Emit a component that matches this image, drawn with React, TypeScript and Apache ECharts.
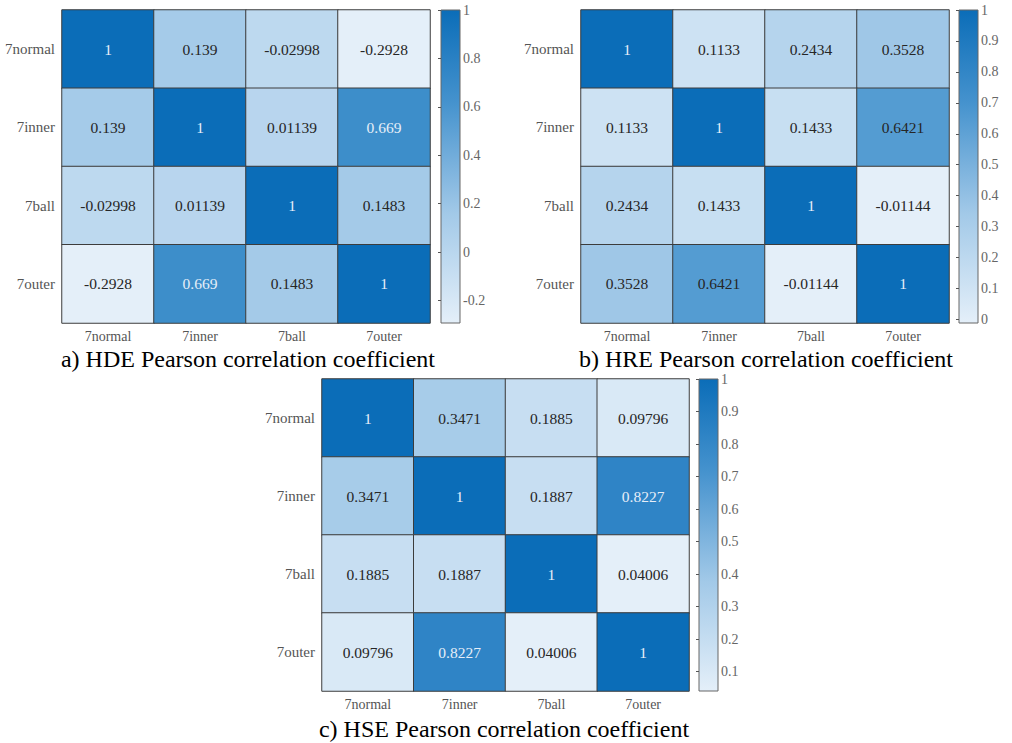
import React, { useEffect, useRef } from "react";
import * as echarts from "echarts";

// Category labels shared by rows and columns
const CATEGORIES = ["7normal", "7inner", "7ball", "7outer"];

// Pearson correlation matrices (row-major, rows top to bottom)
const HDE_VALUES = [
  [1, 0.139, -0.02998, -0.2928],
  [0.139, 1, 0.01139, 0.669],
  [-0.02998, 0.01139, 1, 0.1483],
  [-0.2928, 0.669, 0.1483, 1],
];
const HRE_VALUES = [
  [1, 0.1133, 0.2434, 0.3528],
  [0.1133, 1, 0.1433, 0.6421],
  [0.2434, 0.1433, 1, -0.01144],
  [0.3528, 0.6421, -0.01144, 1],
];
const HSE_VALUES = [
  [1, 0.3471, 0.1885, 0.09796],
  [0.3471, 1, 0.1887, 0.8227],
  [0.1885, 0.1887, 1, 0.04006],
  [0.09796, 0.8227, 0.04006, 1],
];

// Colour-bar tick labels
const HDE_TICKS = [-0.2, 0, 0.2, 0.4, 0.6, 0.8, 1];
const HRE_TICKS = [0, 0.1, 0.2, 0.3, 0.4, 0.5, 0.6, 0.7, 0.8, 0.9, 1];
const HSE_TICKS = [0.1, 0.2, 0.3, 0.4, 0.5, 0.6, 0.7, 0.8, 0.9, 1];

const TITLES = [
  "a) HDE Pearson correlation coefficient",
  "b) HRE Pearson correlation coefficient",
  "c) HSE Pearson correlation coefficient",
];

// Blue colour map, low to high, with the position of each stop
const COLORMAP = ["#e4eff9", "#a2c9e8", "#4693ce", "#0b6db8"];
const COLORMAP_POS = [0, 0.35, 0.7, 1];

const LABEL_FONT = "'Liberation Serif', 'DejaVu Serif', serif";
const SERIF = "'Liberation Serif', 'DejaVu Serif', serif";

const PANELS = [
  { values: HDE_VALUES, ticks: HDE_TICKS, title: TITLES[0], left: 62, top: 10, width: 368, height: 313, barLeft: 441, titleX: 248, titleY: 359 },
  { values: HRE_VALUES, ticks: HRE_TICKS, title: TITLES[1], left: 581, top: 10, width: 368, height: 313, barLeft: 959, titleX: 766, titleY: 359 },
  { values: HSE_VALUES, ticks: HSE_TICKS, title: TITLES[2], left: 322, top: 379, width: 367, height: 312, barLeft: 699, titleX: 504, titleY: 729 },
];

// Expand the colour stops into an evenly spaced ramp for visualMap
function buildRamp(): string[] {
  const n = 21;
  const parse = (h: string) => [1, 3, 5].map((i) => parseInt(h.slice(i, i + 2), 16));
  const out: string[] = [];
  for (let i = 0; i < n; i++) {
    const t = i / (n - 1);
    let j = 0;
    while (j < COLORMAP_POS.length - 2 && t > COLORMAP_POS[j + 1]) j++;
    const a = parse(COLORMAP[j]);
    const b = parse(COLORMAP[j + 1]);
    const u = (t - COLORMAP_POS[j]) / (COLORMAP_POS[j + 1] - COLORMAP_POS[j]);
    const rgb = a.map((x, m) => Math.round(x + (b[m] - x) * u));
    out.push(`rgb(${rgb[0]},${rgb[1]},${rgb[2]})`);
  }
  return out;
}

function buildOption() {
  const grid: any[] = [];
  const xAxis: any[] = [];
  const yAxis: any[] = [];
  const visualMap: any[] = [];
  const series: any[] = [];
  const graphic: any[] = [];

  // vertical gradient for the colour bars: top = high, bottom = low
  const gradientStops = COLORMAP.map((c, i) => ({
    offset: 1 - COLORMAP_POS[i],
    color: c,
  })).reverse();

  PANELS.forEach((p, k) => {
    const flat = p.values.flat();
    const vmin = Math.min(...flat);
    const vmax = Math.max(...flat);

    // heatmap grid
    grid.push({ left: p.left, top: p.top, width: p.width, height: p.height, show: false });
    xAxis.push({
      type: "category",
      gridIndex: k,
      data: CATEGORIES,
      axisLine: { show: false },
      axisTick: { show: false },
      splitArea: { show: false },
      axisLabel: { color: "#555", fontFamily: LABEL_FONT, fontSize: 14, margin: 6 },
    });
    yAxis.push({
      type: "category",
      gridIndex: k,
      data: CATEGORIES,
      inverse: true,
      axisLine: { show: false },
      axisTick: { show: false },
      splitArea: { show: false },
      axisLabel: { color: "#555", fontFamily: LABEL_FONT, fontSize: 15, margin: 7 },
    });

    const span = vmax - vmin;
    visualMap.push({
      show: false,
      type: "continuous",
      seriesIndex: k,
      dimension: 2,
      min: vmin,
      max: vmax,
      inRange: { color: buildRamp() },
    });

    const data: any[] = [];
    p.values.forEach((row, r) => {
      row.forEach((v, c) => {
        const t = (v - vmin) / span;
        data.push({
          value: [c, r, v],
          label: { color: t > 0.7 ? "#e6eef8" : "#262626" },
        });
      });
    });

    series.push({
      type: "heatmap",
      xAxisIndex: k,
      yAxisIndex: k,
      data,
      label: {
        show: true,
        fontFamily: LABEL_FONT,
        fontSize: 15.5,
        formatter: (prm: any) => String(prm.value[2]),
      },
      itemStyle: { borderColor: "#3c3c3c", borderWidth: 1 },
      emphasis: { disabled: true },
    });

    graphic.push({
      type: "text",
      x: p.titleX,
      y: p.titleY,
      style: {
        text: p.title,
        fill: "#000",
        font: `24px ${SERIF}`,
        textAlign: "center",
        textVerticalAlign: "middle",
      },
    });
  });

  // colour bars
  PANELS.forEach((p, k) => {
    const flat = p.values.flat();
    const vmin = Math.min(...flat);
    const vmax = Math.max(...flat);
    const gi = PANELS.length + k;
    grid.push({
      left: p.barLeft,
      top: p.top,
      width: 19,
      height: p.height,
      show: true,
      borderColor: "#666",
      borderWidth: 1,
      backgroundColor: new echarts.graphic.LinearGradient(0, 0, 0, 1, gradientStops),
    });
    xAxis.push({ type: "value", gridIndex: gi, show: false, min: 0, max: 1 });
    yAxis.push({
      type: "value",
      gridIndex: gi,
      position: "right",
      min: vmin,
      max: vmax,
      splitLine: { show: false },
      axisLine: { show: false },
      axisTick: {
        show: true,
        inside: true,
        length: 3,
        lineStyle: { color: "#555" },
        customValues: p.ticks,
      },
      axisLabel: {
        color: "#666",
        fontFamily: LABEL_FONT,
        fontSize: 14,
        margin: 3,
        customValues: p.ticks,
        formatter: (v: number) => String(v),
      },
    });
  });

  return {
    animation: false,
    backgroundColor: "#fff",
    grid,
    xAxis,
    yAxis,
    visualMap,
    series,
    graphic,
  };
}

export default function App() {
  const ref = useRef<HTMLDivElement>(null);

  useEffect(() => {
    if (!ref.current) return;
    const chart = echarts.init(ref.current, null, { renderer: "svg" });
    chart.setOption(buildOption() as any);
    return () => chart.dispose();
  }, []);

  return (
    <div
      ref={ref}
      style={{ position: "fixed", left: 0, top: 0, width: 1012, height: 743, background: "#fff" }}
    />
  );
}
